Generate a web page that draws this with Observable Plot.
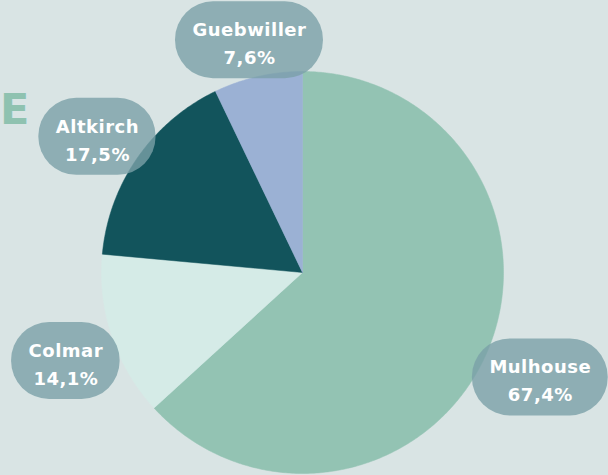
<!DOCTYPE html>
<html><head><meta charset="utf-8">
<script src="https://cdn.jsdelivr.net/npm/d3@7"></script>
<script src="https://cdn.jsdelivr.net/npm/@observablehq/plot@0.6"></script>
<style>
html,body{margin:0;padding:0;background:#d9e4e4;}
#wrap{position:relative;width:608px;height:475px;overflow:hidden;}
#title{position:absolute;left:0px;top:88px;font:bold 43px "DejaVu Sans";color:#8fc2b0;line-height:1;}
#chart{position:absolute;left:0;top:0;}
</style></head><body><div id="wrap"><div id="title">E</div><div id="chart"></div></div>
<script>
const categories = ["Mulhouse", "Colmar", "Altkirch", "Guebwiller"];
const values = [67.4, 14.1, 17.5, 7.6];
const valueLabels = ["67,4%", "14,1%", "17,5%", "7,6%"];
const colors = ["#93c3b3", "#d5ebe7", "#12545c", "#9bb1d4"];

const W = 608, H = 475;
const cx = 302, cy = 272, R = 201;
const rows = categories.map((name, i) => ({name, value: values[i], label: valueLabels[i]}));
const arcs = d3.pie().sort(null).value(d => d.value)(rows);

const pts = [];
for (const a of arcs) {
  pts.push({name: a.data.name, x: cx, y: cy});
  const n = Math.max(2, Math.ceil((a.endAngle - a.startAngle) / 0.01));
  for (let k = 0; k <= n; k++) {
    const t = a.startAngle + (a.endAngle - a.startAngle) * k / n;
    pts.push({name: a.data.name, x: cx + R * Math.sin(t), y: cy - R * Math.cos(t)});
  }
  pts.push({name: a.data.name, x: cx, y: cy});
}

const ctx = document.createElement("canvas").getContext("2d");
ctx.font = 'bold 18px "DejaVu Sans"';
const labels = arcs.map(a => {
  const m = (a.startAngle + a.endAngle) / 2;
  const tw = Math.max(ctx.measureText(a.data.name).width + a.data.name.length * 0.5,
                      ctx.measureText(a.data.label).width);
  const w = tw + 34, h = 77;
  const ext = Math.hypot(Math.sin(m) * w / 2, Math.cos(m) * h / 2);
  const r = R + 0.92 * ext;
  const nudge = 10 * Math.pow(Math.max(0, -Math.sin(m)), 2);
  const x = cx + r * Math.sin(m), y = cy - r * Math.cos(m) + nudge;
  return {name: a.data.name, label: a.data.label, x, y, x1: x - w / 2, x2: x + w / 2, y1: y - h / 2, y2: y + h / 2};
});

const chart = Plot.plot({
  width: W, height: H, margin: 0,
  x: {domain: [0, W], range: [0, W], axis: null},
  y: {domain: [0, H], range: [0, H], axis: null},
  color: {domain: categories, range: colors},
  style: {background: "transparent", letterSpacing: "0.5px"},
  marks: [
    Plot.line(pts, {x: "x", y: "y", z: "name", fill: "name", stroke: "name", strokeWidth: 0.5, curve: "linear"}),
    Plot.rect(labels, {x1: "x1", x2: "x2", y1: "y1", y2: "y2", fill: "rgb(122,160,167)", fillOpacity: 0.8, rx: 38, ry: 38}),
    Plot.text(labels, {x: "x", y: "y", dy: 1, text: d => d.name + "\n" + d.label, fill: "white", fontSize: 18, fontWeight: "bold", fontFamily: "DejaVu Sans", lineHeight: 1.55})
  ]
});
document.getElementById("chart").appendChild(chart);
</script>
</body></html>
